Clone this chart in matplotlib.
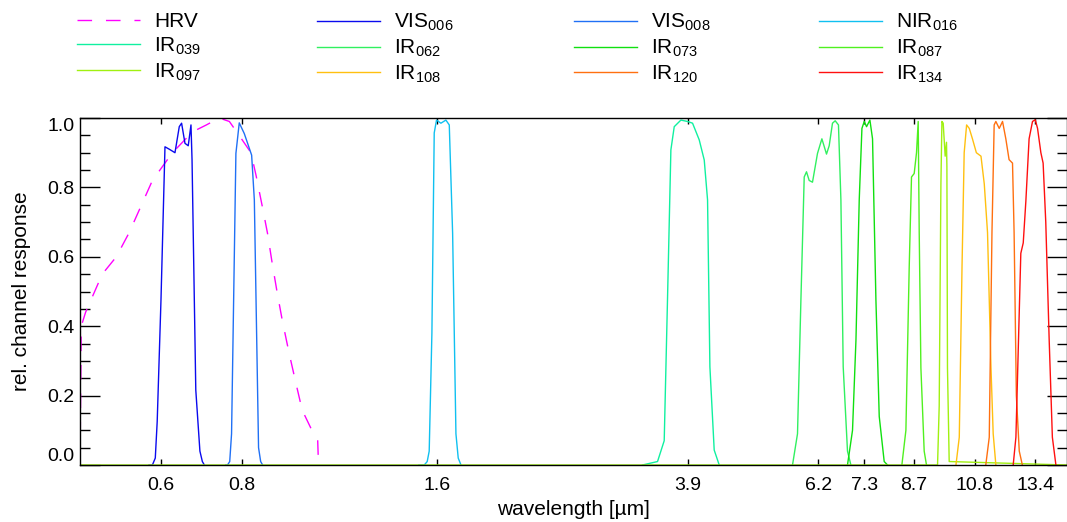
import matplotlib
matplotlib.use("Agg")
import matplotlib.pyplot as plt
from matplotlib.ticker import MultipleLocator, NullLocator

plt.rcParams['font.family'] = ['Liberation Sans', 'DejaVu Sans']
plt.rcParams['mathtext.default'] = 'regular'

# channel response curves (wavelength in um, relative response)
hrv_wl = [0.45, 0.452, 0.459, 0.487, 0.512, 0.536, 0.582, 0.625, 0.671, 0.705, 0.738, 0.765,
          0.792, 0.826, 0.841, 0.860, 0.876, 0.891, 0.907, 0.923, 0.946, 0.969, 0.991,
          1.022, 1.047, 1.050]
hrv_rsp = [0.0, 0.40, 0.44, 0.55, 0.60, 0.67, 0.82, 0.90, 0.96, 0.98, 1.0, 0.99,
           0.95, 0.90, 0.835, 0.745, 0.668, 0.58, 0.495, 0.418, 0.322, 0.236, 0.158,
           0.106, 0.072, 0.0]

vis006_wl = [0.575, 0.582, 0.588, 0.592, 0.600, 0.6086, 0.618, 0.6306, 0.6403, 0.6456, 0.6534,
             0.661, 0.6675, 0.670, 0.679, 0.689, 0.695, 0.70]
vis006_rsp = [0.0, 0.0, 0.02, 0.125, 0.475, 0.917, 0.91, 0.90, 0.975, 0.985, 0.927,
              0.92, 0.98, 0.88, 0.216, 0.04, 0.01, 0.0]

vis008_wl = [0.755, 0.760, 0.766, 0.771, 0.783, 0.7924, 0.8067, 0.828, 0.836, 0.8486, 0.855, 0.861]
vis008_rsp = [0.0, 0.0, 0.01, 0.09, 0.898, 0.986, 0.955, 0.893, 0.764, 0.05, 0.01, 0.0]

nir016_wl = [1.50, 1.529, 1.545, 1.556, 1.571, 1.584, 1.597, 1.622, 1.651, 1.671, 1.691,
             1.711, 1.725, 1.742]
nir016_rsp = [0.0, 0.0, 0.01, 0.04, 0.38, 0.957, 0.994, 0.985, 0.994, 0.98, 0.668,
              0.09, 0.02, 0.0]

ir039_wl = [3.320, 3.502, 3.586, 3.628, 3.672, 3.716, 3.805, 3.896, 3.966, 4.061, 4.134,
            4.183, 4.218, 4.283, 4.360]
ir039_rsp = [0.0, 0.01, 0.07, 0.475, 0.908, 0.975, 0.994, 0.99, 0.985, 0.937, 0.879,
             0.764, 0.283, 0.043, 0.0]

ir062_wl = [5.657, 5.758, 5.828, 5.897, 5.945, 6.002, 6.073, 6.182, 6.279, 6.383, 6.444,
            6.520, 6.583, 6.660, 6.718, 6.773, 6.877, 6.96]
ir062_rsp = [0.0, 0.09, 0.475, 0.83, 0.845, 0.82, 0.815, 0.898, 0.94, 0.896, 0.92,
             0.985, 0.992, 0.98, 0.764, 0.283, 0.04, 0.0]

ir073_wl = [6.877, 7.001, 7.087, 7.170, 7.239, 7.299, 7.359, 7.447, 7.517, 7.608, 7.698,
            7.835, 7.928]
ir073_rsp = [0.0, 0.10, 0.36, 0.764, 0.97, 0.99, 0.975, 0.994, 0.94, 0.475, 0.14, 0.01, 0.0]

ir087_wl = [8.343, 8.463, 8.563, 8.633, 8.716, 8.788, 8.841, 8.873, 8.926, 9.031, 9.105]
ir087_rsp = [0.0, 0.10, 0.57, 0.83, 0.84, 0.90, 0.99, 0.67, 0.28, 0.04, 0.0]

ir097_wl = [0.45, 9.47, 9.526, 9.584, 9.618, 9.662, 9.73, 9.776, 9.79, 9.81, 9.87, 15.0]
ir097_rsp = [0.0, 0.0, 0.17, 0.81, 0.99, 0.985, 0.89, 0.93, 0.86, 0.28, 0.01, 0.0]

ir108_wl = [10.11, 10.23, 10.33, 10.41, 10.50, 10.60, 10.72, 10.87, 11.05, 11.18, 11.31,
            11.45, 11.54, 11.65]
ir108_rsp = [0.0, 0.08, 0.57, 0.90, 0.98, 0.97, 0.94, 0.90, 0.89, 0.81, 0.67, 0.28, 0.09, 0.0]

ir120_wl = [11.24, 11.38, 11.49, 11.58, 11.65, 11.79, 11.93, 12.07, 12.21, 12.36, 12.43,
            12.53, 12.66, 12.80]
ir120_rsp = [0.0, 0.08, 0.67, 0.98, 0.99, 0.97, 0.99, 0.94, 0.88, 0.87, 0.67, 0.20, 0.04, 0.0]

ir134_wl = [12.39, 12.51, 12.63, 12.73, 12.84, 12.96, 13.11, 13.27, 13.40, 13.51, 13.67,
            13.78, 13.91, 14.08, 14.24, 14.42]
ir134_rsp = [0.0, 0.08, 0.37, 0.61, 0.64, 0.76, 0.94, 0.99, 0.995, 0.97, 0.90, 0.87, 0.70,
             0.36, 0.08, 0.0]

names = ['VIS$_{006}$', 'VIS$_{008}$', 'NIR$_{016}$', 'IR$_{039}$', 'IR$_{062}$', 'IR$_{073}$',
         'IR$_{087}$', 'IR$_{097}$', 'IR$_{108}$', 'IR$_{120}$', 'IR$_{134}$']
curves = [(vis006_wl, vis006_rsp), (vis008_wl, vis008_rsp), (nir016_wl, nir016_rsp),
          (ir039_wl, ir039_rsp), (ir062_wl, ir062_rsp), (ir073_wl, ir073_rsp),
          (ir087_wl, ir087_rsp), (ir097_wl, ir097_rsp), (ir108_wl, ir108_rsp),
          (ir120_wl, ir120_rsp), (ir134_wl, ir134_rsp)]
colors = ['#0a0aee', '#2070f5', '#10c0f0', '#10f0a0', '#30f060', '#10e010',
          '#50f020', '#a0f010', '#ffc010', '#ff7010', '#ff1010']

xticks = [0.6, 0.8, 1.6, 3.9, 6.2, 7.3, 8.7, 10.8, 13.4]
xticklabels = ['0.6', '0.8', '1.6', '3.9', '6.2', '7.3', '8.7', '10.8', '13.4']

W, H = 1067, 522
fig = plt.figure(figsize=(W / 100, H / 100), dpi=100)
ax = fig.add_axes([80 / W, 1 - 465 / H, (W - 80) / W, (465 - 118) / H])

handles = []
h, = ax.plot(hrv_wl, hrv_rsp, color='#ff00ff', lw=1, dashes=(10.5, 10))
handles.append(h)
for (wl, rsp), c in zip(curves, colors):
    h, = ax.plot(wl, rsp, color=c, lw=1)
    handles.append(h)
labels = ['HRV'] + names

ax.set_xscale('log')
ax.set_xlim(0.45, 15.0)
ax.set_ylim(0, 1.0)
ax.set_xticks(xticks)
ax.set_xticklabels(xticklabels)
ax.xaxis.set_minor_locator(NullLocator())
ax.set_yticks([0.0, 0.2, 0.4, 0.6, 0.8, 1.0])
ax.set_yticklabels(['0.0', '0.2', '0.4', '0.6', '0.8', '1.0'])
ax.yaxis.set_minor_locator(MultipleLocator(0.05))

ax.tick_params(axis='x', which='major', direction='in', length=4, width=1,
               top=True, bottom=True, labelsize=14, pad=9)
ax.tick_params(axis='y', which='major', direction='in', length=14.4, width=1,
               left=True, right=True, labelsize=14, pad=4)
ax.tick_params(axis='y', which='minor', direction='in', length=7.2, width=1,
               left=True, right=True)
for s in ax.spines.values():
    s.set_linewidth(1)

ylabs = ax.get_yticklabels()
ylabs[0].set_va('bottom')
ylabs[-1].set_va('top')

ax.set_xlabel('wavelength [µm]', fontsize=15, labelpad=4)
ax.set_ylabel('rel. channel response', fontsize=15, labelpad=12)

# legend: four columns, filled row by row
col_x = [77, 317, 574, 819]
for i in range(4):
    idx = [i, i + 4, i + 8]
    fig.legend([handles[j] for j in idx], [labels[j] for j in idx],
               loc='upper left', bbox_to_anchor=(col_x[i] / W, 1 - 12 / H),
               frameon=False, fontsize=15, handlelength=3.0, handletextpad=0.7,
               labelspacing=0.22, borderpad=0, borderaxespad=0)

fig.savefig('out.png', dpi=100)
